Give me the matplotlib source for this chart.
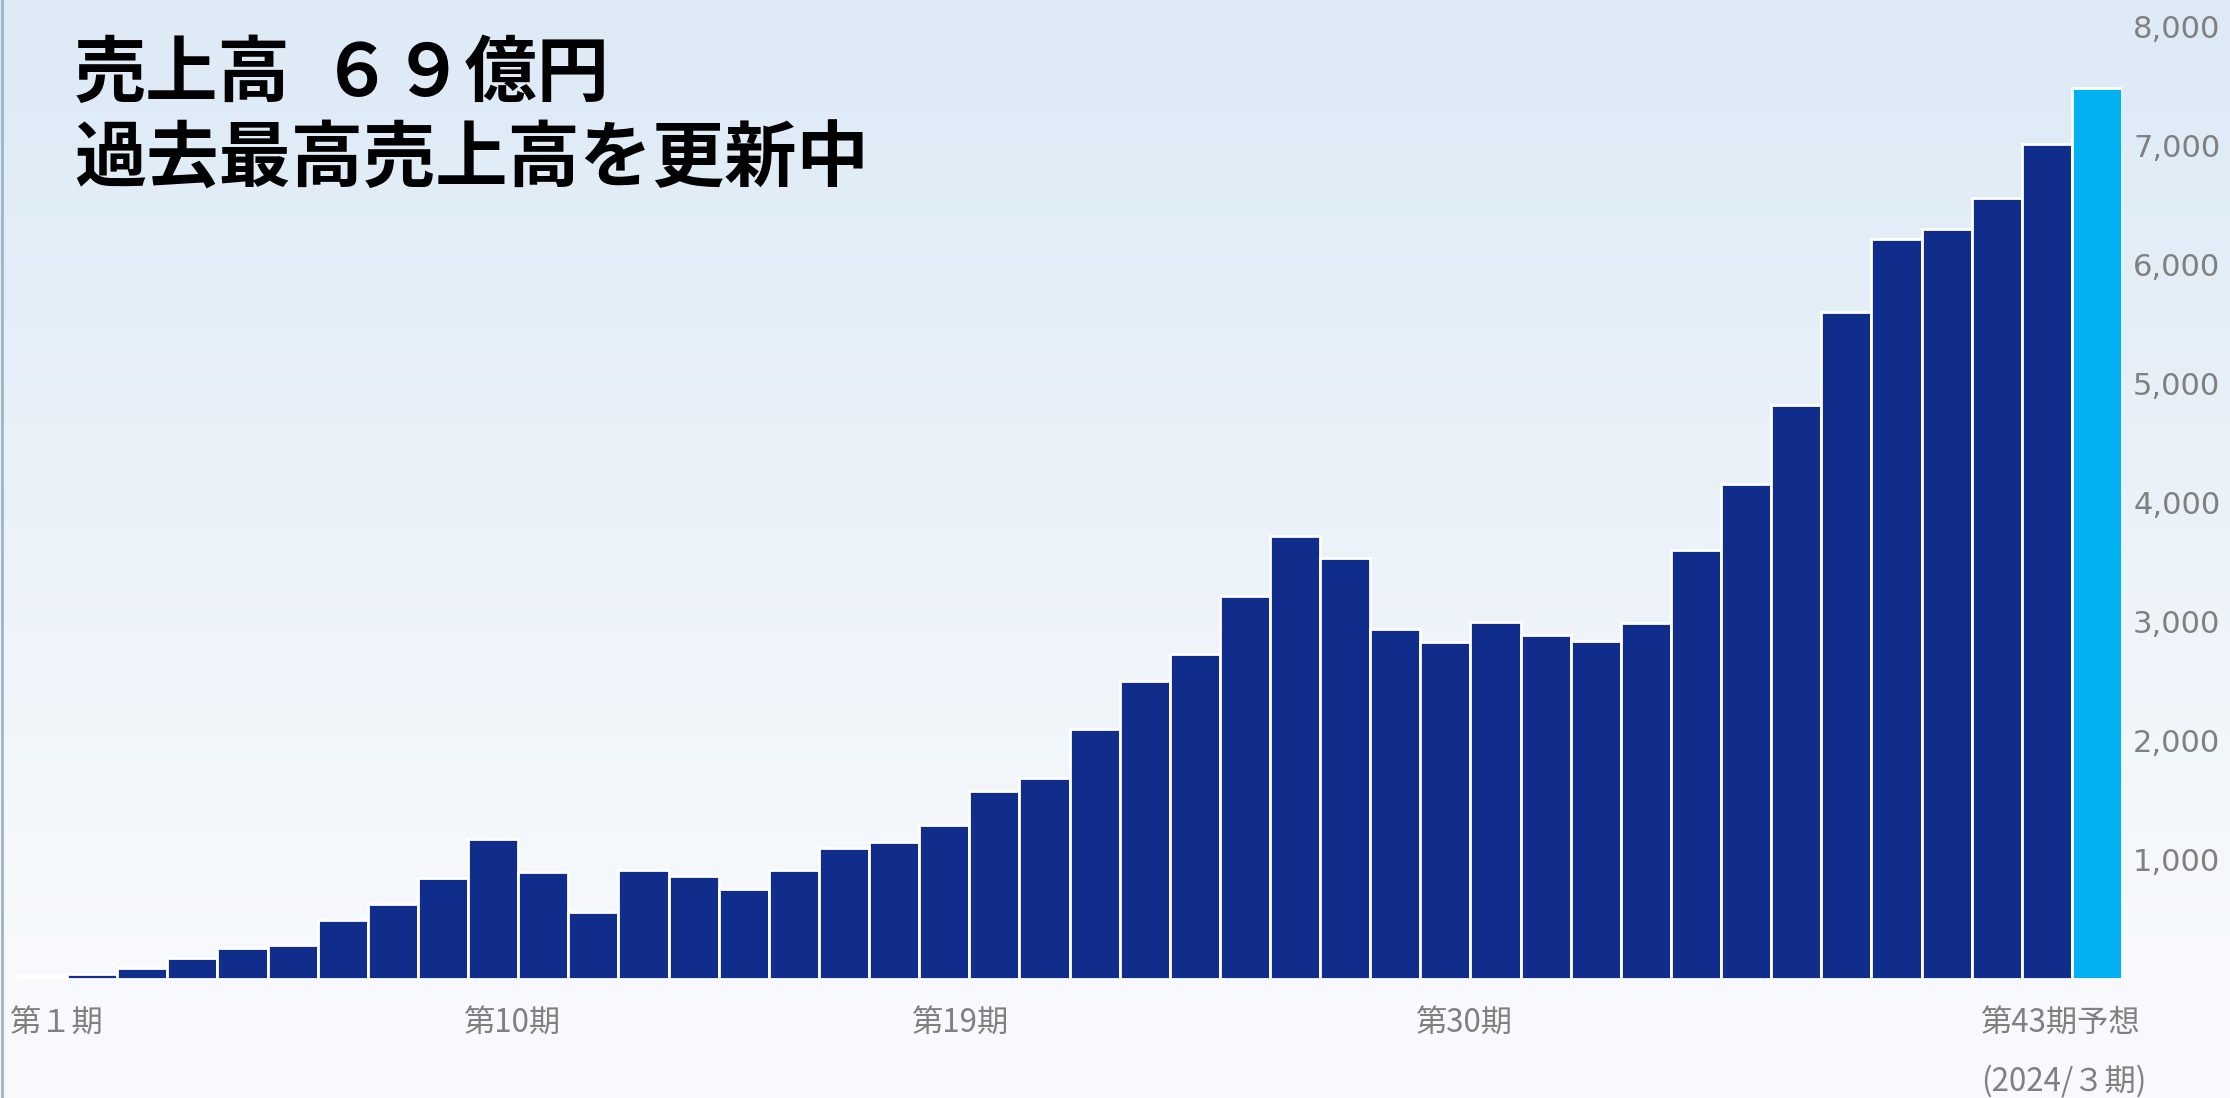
import matplotlib.pyplot as plt
import numpy as np

plt.rcParams['font.family'] = ['Noto Sans CJK JP', 'DejaVu Sans']

# sales per period (million yen); the last bar is the forecast
sales = [30, 40, 85, 175, 255, 285, 490, 630, 845, 1170,
         895, 555, 910, 862, 755, 915, 1100, 1145, 1290, 1576,
         1685, 2095, 2505, 2726, 3216, 3721, 3532, 2942, 2830, 2998,
         2885, 2839, 2992, 3603, 4159, 4822, 5607, 6218, 6305, 6565,
         7013, 7487]
period_labels = ['第１期', '第10期', '第19期', '第30期', '第43期予想']
forecast_note = '(2024/３期)'
y_ticks = [1000, 2000, 3000, 4000, 5000, 6000, 7000, 8000]
title_head = '売上高'
title_value = '６９億円'
title_sub = '過去最高売上高を更新中'

W, H = 2230, 1098
fig = plt.figure(figsize=(W / 100, H / 100), dpi=100)

# background gradient
bg = fig.add_axes([0, 0, 1, 1], zorder=-1)
top = np.array([0.872, 0.922, 0.965])
bot = np.array([0.972, 0.980, 0.990])
t = np.linspace(0, 1, 256)[:, None]
t = np.clip(t * 1.25 - 0.1, 0, 1)
grad = top[None, None, :] * (1 - t[:, :, None]) + bot[None, None, :] * t[:, :, None]
bg.imshow(grad, aspect='auto', extent=[0, 1, 0, 1], origin='upper')
bg.axvline(0.0008, color='#9fb4c8', lw=2)
bg.set_xlim(0, 1)
bg.set_ylim(0, 1)
bg.axis('off')

# main chart
ax = fig.add_axes([17 / W, (H - 978.5) / H, (2122 - 17) / W, (978.5 - 27) / H])
ax.patch.set_alpha(0)
x = np.arange(len(sales))
colors = ['#112d8b'] * len(sales)
colors[0] = 'white'
colors[-1] = '#00b0f0'
ax.bar(x, sales, width=1.0, color=colors, edgecolor='white', linewidth=2.0)
ax.set_xlim(-0.5, len(sales) - 0.5)
ax.set_ylim(0, 8000)

ax.yaxis.tick_right()
ax.set_yticks(y_ticks)
ax.set_yticklabels([f'{v:,}' for v in y_ticks], fontsize=22, color='#808080',
                   family='DejaVu Sans')
ax.tick_params(axis='y', length=0, pad=8)
ax.set_xticks([])
for s in ax.spines.values():
    s.set_visible(False)

# period labels (left edges placed like the original text boxes)
label_x = [-0.64, 8.42, 17.36, 27.41, 38.69]
trans = ax.get_xaxis_transform()
for lx, lab in zip(label_x, period_labels):
    ax.text(lx, -(1024 - 978.5) / (978.5 - 27), lab, transform=trans,
            ha='left', va='center', fontsize=22.5, color='#808080')
ax.text(label_x[-1], -(1081 - 978.5) / (978.5 - 27), forecast_note, transform=trans,
        ha='left', va='center', fontsize=22.5, color='#808080')

# title
fig.text(74 / W, 1 - 75 / H, title_head, fontsize=52, fontweight='bold',
         color='black', ha='left', va='center')
fig.text(321 / W, 1 - 75 / H, title_value, fontsize=52, fontweight='bold',
         color='black', ha='left', va='center')
fig.text(74 / W, 1 - 160 / H, title_sub, fontsize=52, fontweight='bold',
         color='black', ha='left', va='center')

fig.savefig('out.png', dpi=100)
